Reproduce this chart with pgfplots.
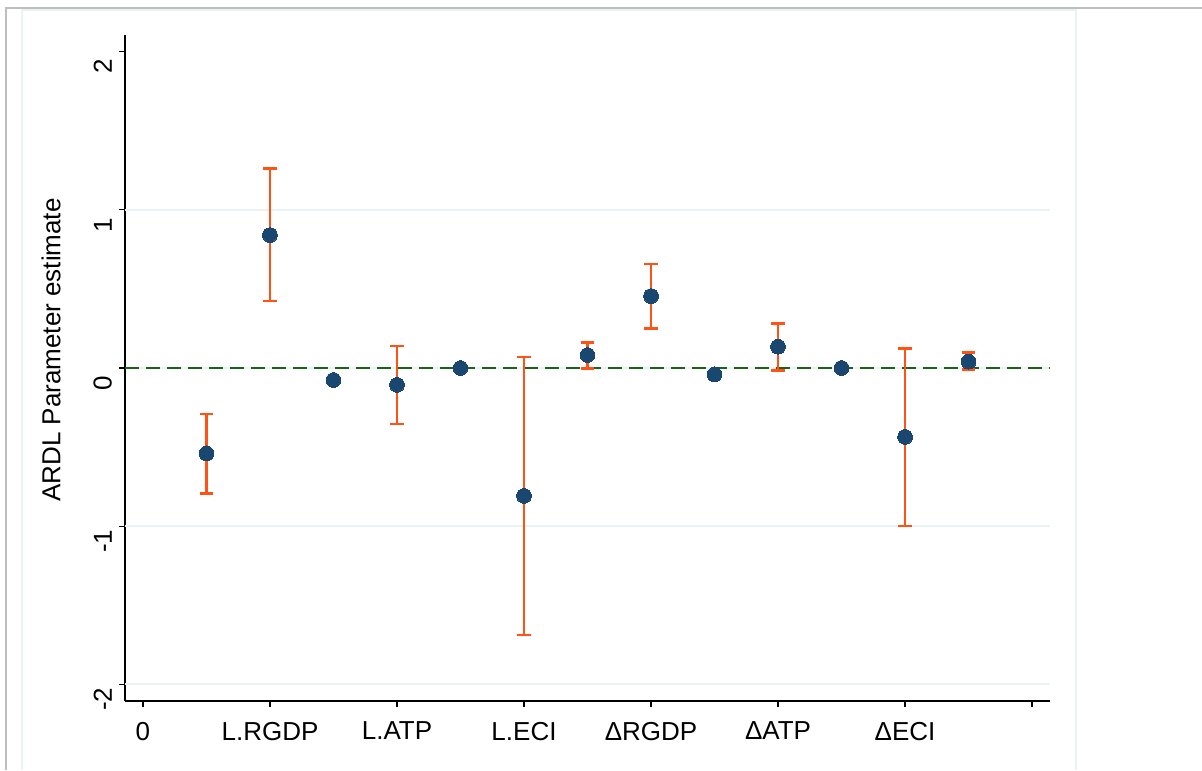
\documentclass[border=0pt]{standalone}
\usepackage{fontspec}
\setmainfont{Liberation Sans}
\usepackage{pgfplots}
\pgfplotsset{compat=1.18}
\definecolor{stnavy}{RGB}{26,71,111}
\definecolor{storange}{RGB}{255,82,20}
\definecolor{stgreen}{RGB}{25,100,25}
\definecolor{stgrid}{RGB}{234,242,243}
\definecolor{stframe}{RGB}{190,190,190}
\begin{document}
\begin{tikzpicture}
\path[use as bounding box] (0pt,0pt) rectangle (601pt,385pt);
\draw[stframe, line width=1pt] (3pt,0pt) -- (3pt,381pt) -- (601pt,381pt);
\draw[stgrid, line width=0.8pt] (11pt,0pt) -- (11pt,380pt) -- (538pt,380pt) -- (538pt,0pt);
\begin{axis}[
  at={(62.5pt,34.5pt)}, anchor=south west,
  scale only axis, width=462.5pt, height=333pt,
  xmin=-0.283, xmax=14.283, ymin=-2.106, ymax=2.106,
  axis lines*=left,
  axis line style={black, line width=0.65pt},
  tick align=outside, major tick length=3pt,
  tick style={black, line width=0.6pt},
  xtick={0,2,4,6,8,10,12,14},
  xticklabels={0,L.RGDP,L.ATP,L.ECI,ΔRGDP,ΔATP,ΔECI,{}},
  ytick={-2,-1,0,1,2},
  yticklabels={-2,-1,0,1,2},
  font=\fontsize{13}{15}\selectfont,
  xticklabel style={font=\fontsize{13}{15}\selectfont, yshift=-4pt},
  yticklabel style={font=\fontsize{13}{15}\selectfont, rotate=90, anchor=south, xshift=-7.5pt},
  ylabel={ARDL Parameter estimate},
  ylabel style={font=\fontsize{13}{15}\selectfont, at={(axis description cs:-0.08,0.527)}, anchor=center},
  extra y ticks={-2,-1,0,1},
  extra y tick labels={},
  extra y tick style={major tick length=0pt, ymajorgrids=true, major grid style={stgrid, line width=1pt}},
  clip=false,
]
\addplot[stgreen, line width=1.2pt, dash pattern=on 7pt off 3.5pt, forget plot] coordinates {(-0.283,0) (14.283,0)};
\addplot[only marks, mark=*, mark size=3.7pt, mark options={fill=stnavy, draw=stnavy, line width=0pt},
  error bars/.cd, y dir=both, y explicit,
  error bar style={storange, line width=1.3pt},
  error mark options={storange, line width=1.3pt, mark size=3.4pt, rotate=90}]
  coordinates {
  (1,-0.540) += (0,0.249) -= (0,0.253)
  (2,0.841) += (0,0.422) -= (0,0.417)
  (4,-0.107) += (0,0.246) -= (0,0.247)
  (6,-0.809) += (0,0.879) -= (0,0.879)
  (7,0.082) += (0,0.080) -= (0,0.084)
  (8,0.455) += (0,0.203) -= (0,0.204)
  (10,0.135) += (0,0.148) -= (0,0.152)
  (12,-0.436) += (0,0.560) -= (0,0.564)
  (13,0.040) += (0,0.057) -= (0,0.048)
  };
\addplot[only marks, mark=*, mark size=3.7pt, mark options={fill=stnavy, draw=stnavy, line width=0pt}]
  coordinates {(3,-0.076) (5,0.000) (9,-0.040) (11,0.000)};
\end{axis}
\end{tikzpicture}
\end{document}
